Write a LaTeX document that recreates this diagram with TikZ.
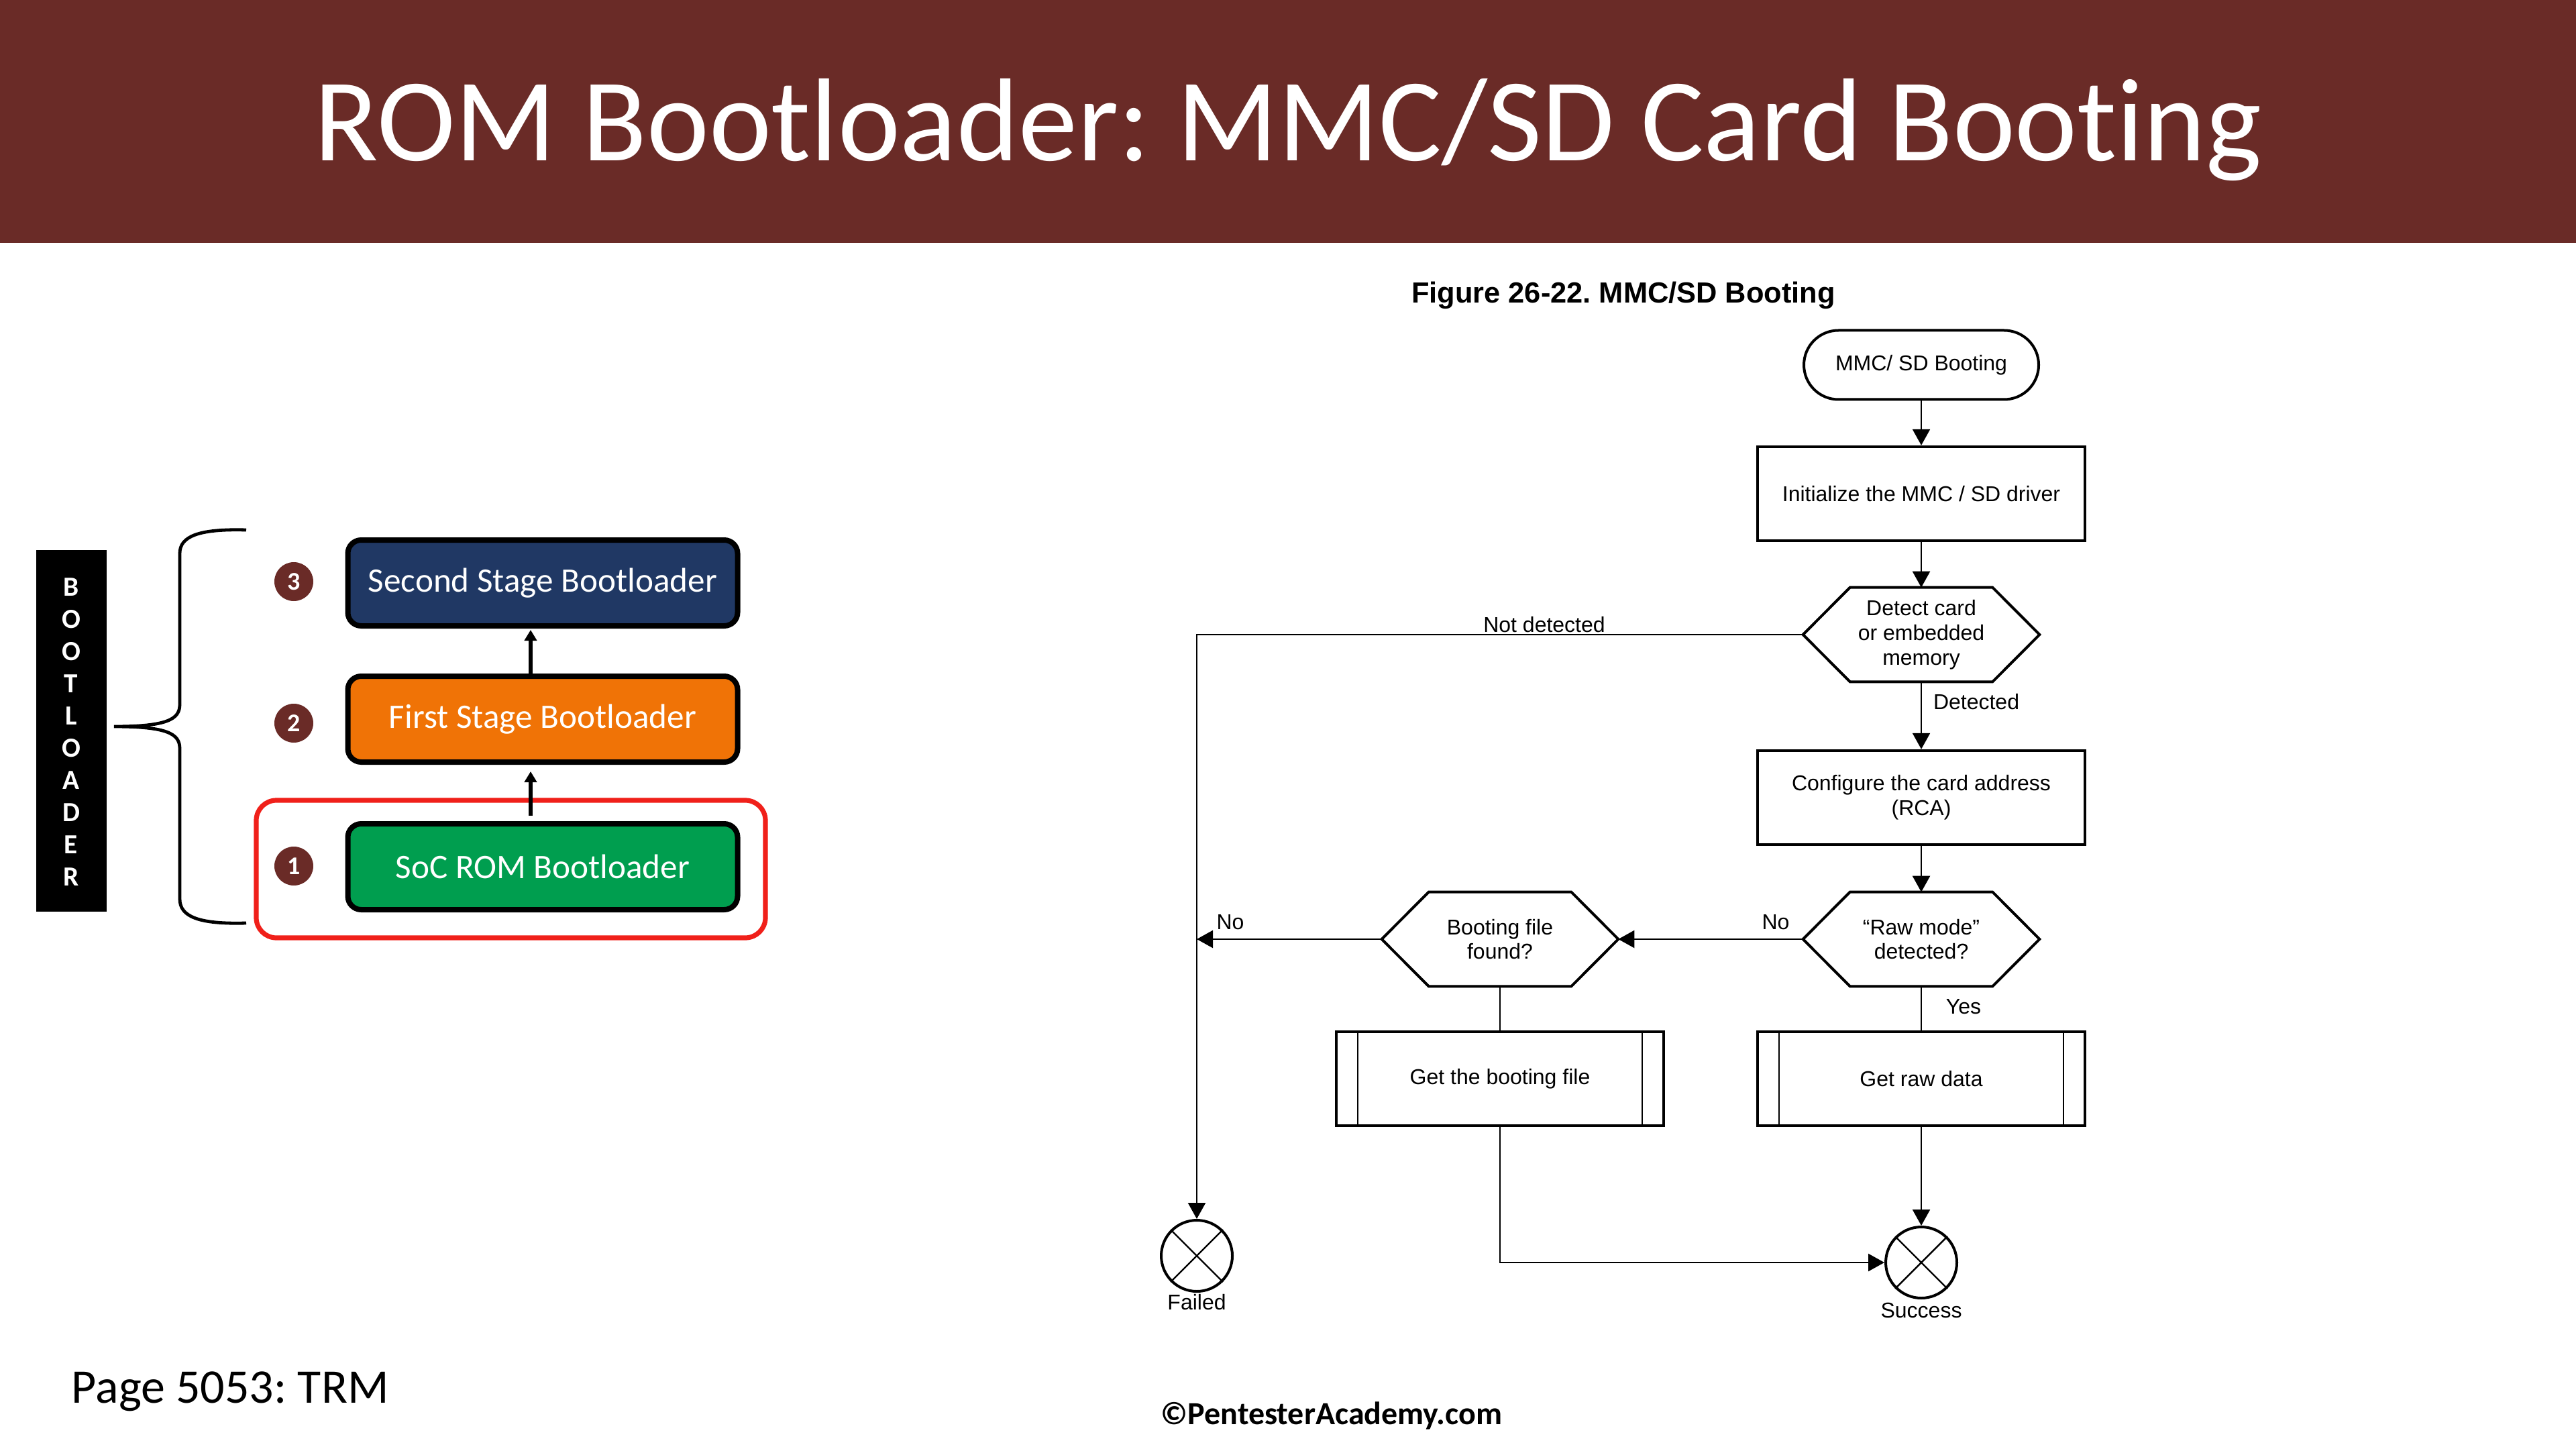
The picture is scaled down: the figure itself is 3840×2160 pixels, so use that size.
\documentclass[tikz,border=0pt]{standalone}
\usepackage{fontspec}
\setmainfont{Liberation Sans}
\newfontfamily\calibri[Ligatures=NoCommon]{Carlito}
\usetikzlibrary{shapes.misc,arrows.meta}
\definecolor{barred}{HTML}{6A2B27}
\definecolor{navy}{HTML}{203864}
\definecolor{orng}{HTML}{F07306}
\definecolor{grn}{HTML}{009E4F}
\definecolor{redbox}{HTML}{F0201A}
\frenchspacing
\tikzset{
 stage/.style={draw=black, line width=2pt, rounded corners=5pt, minimum width=145.25pt, minimum height=32pt, inner sep=0pt, text=white, font=\calibri\fontsize{12.8}{15}\selectfont},
 numc/.style={circle, fill=barred, minimum size=14.5pt, inner sep=0pt, text=white, font=\calibri\bfseries\fontsize{9.5}{10}\selectfont},
 stagearr/.style={line width=1.5pt, -{Triangle[width=4.5pt,length=4pt]}},
 fc/.style={font=\fontsize{8}{9.2}\selectfont, align=center, inner sep=0pt},
 procbox/.style={fc, draw, line width=1.1pt, minimum width=122pt, minimum height=35pt},
 term/.style={fc, draw, rounded rectangle, line width=1pt, minimum width=87.5pt, minimum height=25.75pt},
 hexbox/.style={fc, minimum width=87.75pt, minimum height=34.75pt},
 hexline/.style={line width=1pt, line join=miter},
 conn/.style={line width=0.6pt},
 arr/.style={conn, -{Triangle[width=6.5pt,length=6pt]}},
 endc/.style={circle, draw, line width=1pt, minimum size=26.5pt, inner sep=0pt},
 lbl/.style={fc},
}
\newcommand\hexdraw[1]{\draw[hexline] (#1.west) -- ([xshift=17.5pt]#1.north west) -- ([xshift=-17.5pt]#1.north east) -- (#1.east) -- ([xshift=-17.5pt]#1.south east) -- ([xshift=17.5pt]#1.south west) -- cycle;}
\newcommand\procsides[1]{\draw[conn] ([xshift=8.5pt]#1.north west) -- ([xshift=8.5pt]#1.south west); \draw[conn] ([xshift=-8.5pt]#1.north east) -- ([xshift=-8.5pt]#1.south east);}
\newcommand\crossdraw[1]{\draw[conn] (#1.north west) -- (#1.south east) (#1.north east) -- (#1.south west);}
\begin{document}
\begin{tikzpicture}[x=0.25pt,y=-0.25pt]
\useasboundingbox (0,0) rectangle (3840,2160);
\fill[white] (0,0) rectangle (3840,2160);
% title bar
\fill[barred] (0,0) rectangle (3840,362);
\node[anchor=base, text=white, font=\calibri\fontsize{44}{50}\selectfont, inner sep=0pt] (title) at (1920,240) {ROM Bootloader: MMC/SD Card Booting};

% left: bootloader stack
\fill[black] (54,820) rectangle (159,1359);
\node[text=white, font=\calibri\bfseries\fontsize{10.3}{12}\selectfont, align=center, inner sep=0pt] (vert) at (106,1091) {B\\O\\O\\T\\L\\O\\A\\D\\E\\R};
\draw[line width=1.2pt] (367,790) .. controls (295,788) and (268,800) .. (268,825) -- (268,1050) .. controls (268,1072) and (250,1083) .. (170,1083)
  .. controls (250,1083) and (268,1094) .. (268,1116) -- (268,1340) .. controls (268,1366) and (295,1378) .. (367,1376);
\draw[redbox, line width=1.8pt, rounded corners=7.5pt] (382,1193) rectangle (1141,1398);
\node[stage, fill=navy] (ssb) at (809,869) {Second Stage Bootloader};
\node[stage, fill=orng] (fsb) at (809,1072) {First Stage Bootloader};
\node[stage, fill=grn] (soc) at (809,1292) {SoC ROM Bootloader};
\node[numc] (n3) at (438,867) {3};
\node[numc] (n2) at (438,1078) {2};
\node[numc] (n1) at (438,1291) {1};
\draw[stagearr, shorten <=2pt, shorten >=2.5pt] ([xshift=-4.5pt]soc.north) -- ([xshift=-4.5pt]fsb.south);
\draw[stagearr, shorten >=0.5pt] ([xshift=-4.5pt]fsb.north) -- ([xshift=-4.5pt]ssb.south);

% bottom texts
\node[anchor=base west, font=\calibri\fontsize{18}{21}\selectfont, inner sep=0pt] (page) at (106,2091) {Page 5053: TRM};
\node[anchor=base west, font=\calibri\bfseries\fontsize{12}{14}\selectfont, inner sep=0pt] (copy) at (1730,2123) {©PentesterAcademy.com};

% figure title
\node[anchor=base, font=\bfseries\fontsize{10.85}{13}\selectfont, inner sep=0pt] (ftitle) at (2420,452) {Figure 26-22. MMC/SD Booting};

% flowchart
\node[term] (start) at (2864,544) {MMC/ SD Booting};
\node[procbox] (init) at (2864,736) {Initialize the MMC / SD driver};
\node[hexbox] (det) at (2864,946) {Detect card\\or embedded\\memory};
\node[procbox] (cfg) at (2864,1189) {Configure the card address\\(RCA)};
\node[hexbox] (raw) at (2864,1400) {“Raw mode”\\detected?};
\node[hexbox] (bf) at (2236,1400) {Booting file\\found?};
\node[procbox] (gbf) at (2236,1608) {Get the booting file};
\node[procbox] (grd) at (2864,1608) {Get raw data};
\node[endc] (fail) at (1784,1872) {};
\node[endc] (succ) at (2864,1882) {};
\hexdraw{det}
\hexdraw{raw}
\hexdraw{bf}
\procsides{gbf}
\procsides{grd}
\crossdraw{fail}
\crossdraw{succ}

\node[lbl] (lnd) at (2302,931) {Not detected};
\node[lbl] (ldet) at (2946,1046) {Detected};
\node[lbl] (lno1) at (2647,1375) {No};
\node[lbl] (lno2) at (1834,1375) {No};
\node[lbl] (lyes) at (2927,1501) {Yes};
\node[lbl] (lfail) at (1784,1941) {Failed};
\node[lbl] (lsucc) at (2864,1953) {Success};

\draw[arr] (start.south) -- (init.north);
\draw[arr] (init.south) -- (det.north);
\draw[arr] (det.south) -- (cfg.north);
\draw[arr] (det.west) -| (fail.north);
\draw[arr] (cfg.south) -- (raw.north);
\draw[arr] (raw.west) -- (bf.east);
\draw[arr] (bf.west) -- (bf.west -| fail.north);
\draw[conn] (raw.south) -- (grd.north);
\draw[conn] (bf.south) -- (gbf.north);
\draw[arr] (grd.south) -- (succ.north);
\draw[arr] (gbf.south) |- (succ.west);
\end{tikzpicture}
\end{document}
